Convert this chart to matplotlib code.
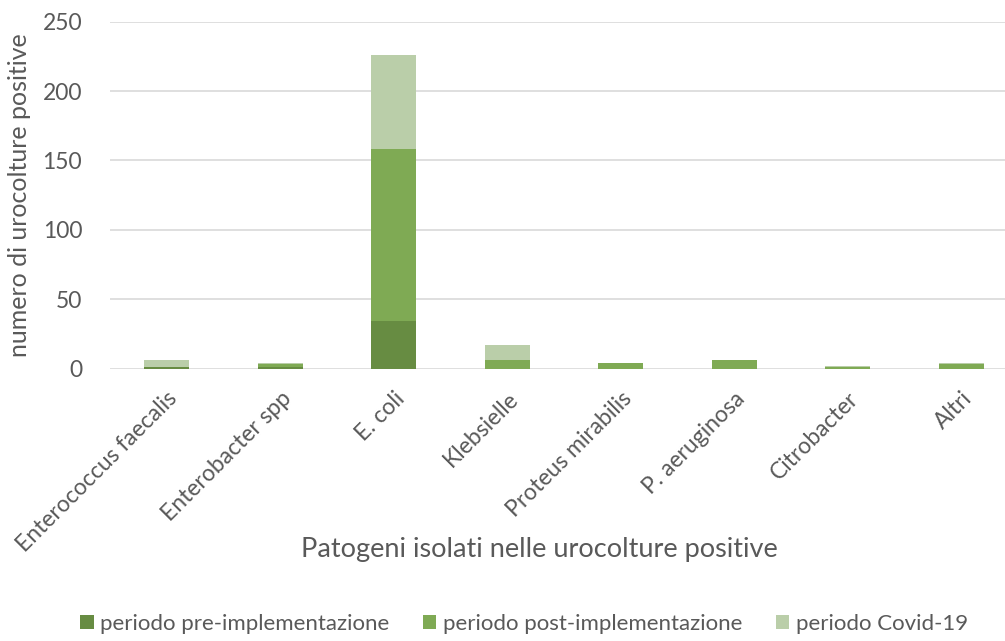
import numpy as np
import matplotlib.pyplot as plt

# Patogeni per periodo
patogeni = ['Enterococcus faecalis', 'Enterobacter spp', 'E. coli', 'Klebsielle',
            'Proteus mirabilis', 'P. aeruginosa', 'Citrobacter', 'Altri']
pre_impl = [1, 1, 34, 0, 0, 0, 0, 0]
post_impl = [0, 2, 124, 6, 4, 6, 1, 3]
covid = [5, 1, 68, 11, 0, 0, 1, 1]
serie = ['periodo pre-implementazione', 'periodo post-implementazione', 'periodo Covid-19']
colori = ['#678C42', '#7FAA54', '#BACEA9']

plt.rcParams['font.family'] = ['Lato', 'DejaVu Sans']
testo = '#595959'

fig = plt.figure(figsize=(10.05, 6.41), dpi=100)
W, H = 1005, 641
ax = fig.add_axes([110 / W, 1 - 368.5 / H, 908 / W, (368.5 - 21.7) / H])

x = np.arange(len(patogeni))
pre = np.array(pre_impl)
post = np.array(post_impl)
cov = np.array(covid)
w = 0.4
ax.bar(x, pre, w, color=colori[0], label=serie[0], zorder=3)
ax.bar(x, post, w, bottom=pre, color=colori[1], label=serie[1], zorder=3)
ax.bar(x, cov, w, bottom=pre + post, color=colori[2], label=serie[2], zorder=3)

ax.set_xlim(-0.5, len(patogeni) - 0.5)
ax.set_ylim(0, 250)
ax.set_yticks(range(0, 251, 50))
ax.yaxis.grid(True, color='#D9D9D9', linewidth=1.2, zorder=0)
for s in ['top', 'right', 'left', 'bottom']:
    ax.spines[s].set_visible(False)
ax.tick_params(axis='both', length=0, labelsize=16.5, colors=testo)
ax.tick_params(axis='y', pad=20)
ax.set_xticks(x)
ax.set_xticklabels(patogeni, rotation=45, ha='right', rotation_mode='anchor')
ax.tick_params(axis='x', pad=14)

fig.text(20 / W, 1 - 195 / H, 'numero di urocolture positive', rotation=90,
         ha='center', va='center', fontsize=18, color=testo)
fig.text(539 / W, 1 - 550 / H, 'Patogeni isolati nelle urocolture positive',
         ha='center', va='center', fontsize=19.5, color=testo)

fig.legend(loc='center', bbox_to_anchor=(524 / W, 1 - 624 / H), ncol=3,
           frameon=False, fontsize=16, labelcolor=testo, handlelength=0.6,
           handleheight=0.6, handletextpad=0.3, columnspacing=1.5)

fig.savefig('out.png', dpi=100)
